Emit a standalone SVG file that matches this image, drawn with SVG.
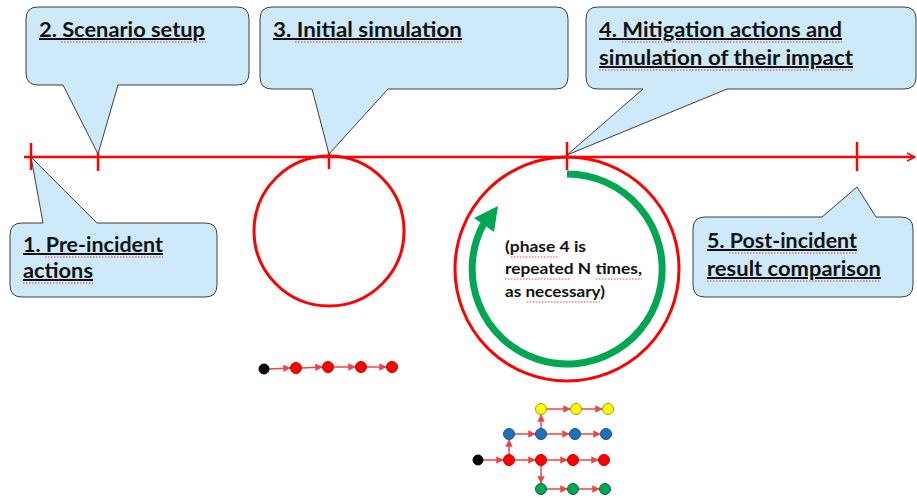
<svg xmlns="http://www.w3.org/2000/svg" width="917" height="498" viewBox="0 0 917 498">
<style>
.callout{fill:#cde9fa;stroke:#3f3f3f;stroke-width:1}
.t{font-family:Lato,"Open Sans","Liberation Sans",sans-serif;font-weight:bold;fill:#111;text-decoration:underline}
.big{font-size:20px}
.small{font-size:16px;text-decoration:none}
.sq{stroke:#e04848;stroke-width:1;stroke-dasharray:1.5 1.5;fill:none}
.tl{stroke:#ff0000;stroke-width:2.5;fill:none}
.ring{stroke:#ff0000;stroke-width:3;fill:none}
.ca{stroke:#e8474a;stroke-width:1.5;fill:none;marker-end:url(#ah)}
.nr{fill:#ff0000;stroke:#c00000;stroke-width:1}
.nb{fill:#1f6fbf;stroke:#15508c;stroke-width:1}
.ny{fill:#ffff00;stroke:#a69a00;stroke-width:1}
.ng{fill:#00a651;stroke:#006b33;stroke-width:1}
.nk{fill:#000;stroke:#000;stroke-width:1}
</style>
<defs>
<marker id="ah" viewBox="0 0 10 10" refX="9" refY="5" markerWidth="5" markerHeight="5" orient="auto" markerUnits="strokeWidth">
<path d="M0,0 L10,5 L0,10 Z" fill="#e8474a"/>
</marker>
<marker id="open" viewBox="0 0 10 10" refX="9" refY="5" markerWidth="4" markerHeight="4" orient="auto" markerUnits="strokeWidth">
<path d="M1,1 L9,5 L1,9" fill="none" stroke="#ff0000" stroke-width="1.5"/>
</marker>
</defs>
<rect width="917" height="498" fill="#fff"/>

<g id="connectors">
<g id="timeline">
<line class="tl" x1="24" y1="157" x2="915" y2="157" marker-end="url(#open)"/>
<line class="tl" x1="31" y1="143" x2="31" y2="170"/>
<line class="tl" x1="98" y1="146" x2="98" y2="171"/>
<line class="tl" x1="329" y1="146" x2="329" y2="169"/>
<line class="tl" x1="567" y1="142" x2="567" y2="170"/>
<line class="tl" x1="857" y1="142" x2="857" y2="171"/>
</g>
<g id="chain1-arrows">
<line class="ca" x1="269" y1="369" x2="290" y2="368"/>
<line class="ca" x1="302" y1="368" x2="322" y2="367"/>
<line class="ca" x1="334" y1="367" x2="355" y2="367"/>
<line class="ca" x1="367" y1="367" x2="386" y2="367"/>
</g>
<g id="chain2-arrows">
<line class="ca" x1="483" y1="460" x2="503" y2="460"/>
<line class="ca" x1="515" y1="460" x2="535" y2="460"/>
<line class="ca" x1="547" y1="460" x2="567" y2="460"/>
<line class="ca" x1="579" y1="460" x2="598" y2="460"/>
<line class="ca" x1="509" y1="454" x2="509" y2="440"/>
<line class="ca" x1="515" y1="434" x2="535" y2="434"/>
<line class="ca" x1="547" y1="434" x2="569" y2="434"/>
<line class="ca" x1="581" y1="434" x2="600" y2="434"/>
<line class="ca" x1="541" y1="428" x2="541" y2="415"/>
<line class="ca" x1="547" y1="409" x2="570" y2="409"/>
<line class="ca" x1="582" y1="409" x2="602" y2="409"/>
<line class="ca" x1="541" y1="466" x2="541" y2="483"/>
<line class="ca" x1="547" y1="489" x2="567" y2="489"/>
<line class="ca" x1="579" y1="489" x2="599" y2="489"/>
</g>
</g>

<g id="circle-initial">
<circle class="ring" cx="329" cy="231" r="75"/>
</g>

<g id="circle-mitigation">
<circle class="ring" cx="567" cy="269" r="112"/>
<path d="M567,174 A95,95 0 1,1 483.5,224" fill="none" stroke="#00a651" stroke-width="7"/>
<polygon points="498,206 474,218 494,232" fill="#00a651"/>
<text class="t small" x="505" y="252" textLength="81" lengthAdjust="spacingAndGlyphs">(phase 4 is</text>
<text class="t small" x="505" y="274" textLength="137" lengthAdjust="spacingAndGlyphs">repeated N times,</text>
<text class="t small" x="505" y="297" textLength="100" lengthAdjust="spacingAndGlyphs">as necessary)</text>
<path class="sq" d="M511,257 H557 M505,279 H571 M596,279 H642 M527,302 H600"/>
</g>

<g id="callout-2">
<path class="callout" d="M38,7 H237 Q249,7 249,19 V73 Q249,85 237,85 H118 L98,154 L63,85 H38 Q26,85 26,73 V19 Q26,7 38,7 Z"/>
<text class="t big" x="39" y="37" textLength="166" lengthAdjust="spacingAndGlyphs">2. Scenario setup</text>
<path class="sq" d="M61,42 H206"/>
</g>

<g id="callout-3">
<path class="callout" d="M272,7 H556 Q568,7 568,19 V77 Q568,89 556,89 H388 L329,154 L312,89 H272 Q260,89 260,77 V19 Q260,7 272,7 Z"/>
<text class="t big" x="273" y="37" textLength="189" lengthAdjust="spacingAndGlyphs">3. Initial simulation</text>
<path class="sq" d="M295,42 H462"/>
</g>

<g id="callout-4">
<path class="callout" d="M598,7 H904 Q916,7 916,19 V77 Q916,89 904,89 H727 L567,155 L643,89 H598 Q586,89 586,77 V19 Q586,7 598,7 Z"/>
<text class="t big" x="599" y="37" textLength="243" lengthAdjust="spacingAndGlyphs">4. Mitigation actions and</text>
<text class="t big" x="599" y="65" textLength="254" lengthAdjust="spacingAndGlyphs">simulation of their impact</text>
<path class="sq" d="M622,42 H842 M599,70 H853"/>
</g>

<g id="callout-1">
<path class="callout" d="M22,223 H43 L31,157 L97,223 H205 Q217,223 217,235 V285 Q217,297 205,297 H22 Q10,297 10,285 V235 Q10,223 22,223 Z"/>
<text class="t big" x="23" y="252" textLength="140" lengthAdjust="spacingAndGlyphs">1. Pre-incident</text>
<text class="t big" x="23" y="278" textLength="70" lengthAdjust="spacingAndGlyphs">actions</text>
<path class="sq" d="M45,257 H163 M23,283 H93"/>
</g>

<g id="callout-5">
<path class="callout" d="M705,217 H822 L857,187 L876,217 H901 Q913,217 913,229 V285 Q913,297 901,297 H705 Q693,297 693,285 V229 Q693,217 705,217 Z"/>
<text class="t big" x="707" y="248" textLength="150" lengthAdjust="spacingAndGlyphs">5. Post-incident</text>
<text class="t big" x="707" y="276" textLength="174" lengthAdjust="spacingAndGlyphs">result comparison</text>
<path class="sq" d="M729,253 H857 M707,281 H881"/>
</g>

<g id="chain1">
<circle class="nk" cx="264" cy="369" r="5"/>
<circle class="nr" cx="296" cy="368" r="5.5"/>
<circle class="nr" cx="328" cy="367" r="5.5"/>
<circle class="nr" cx="361" cy="367" r="5.5"/>
<circle class="nr" cx="392" cy="367" r="5.5"/>
</g>

<g id="chain2">
<circle class="nk" cx="478" cy="460" r="5"/>
<circle class="nr" cx="509" cy="460" r="5.5"/>
<circle class="nr" cx="541" cy="460" r="5.5"/>
<circle class="nr" cx="573" cy="460" r="5.5"/>
<circle class="nr" cx="604" cy="460" r="5.5"/>
<circle class="nb" cx="509" cy="434" r="5.5"/>
<circle class="nb" cx="541" cy="434" r="5.5"/>
<circle class="nb" cx="575" cy="434" r="5.5"/>
<circle class="nb" cx="606" cy="434" r="5.5"/>
<circle class="ny" cx="541" cy="409" r="5.5"/>
<circle class="ny" cx="576" cy="409" r="5.5"/>
<circle class="ny" cx="608" cy="409" r="5.5"/>
<circle class="ng" cx="541" cy="489" r="5.5"/>
<circle class="ng" cx="573" cy="489" r="5.5"/>
<circle class="ng" cx="605" cy="489" r="5.5"/>
</g>
</svg>
